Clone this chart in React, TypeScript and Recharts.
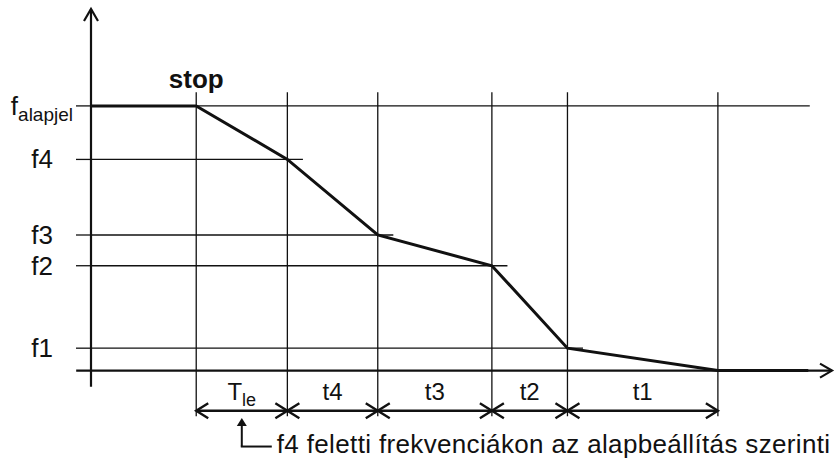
import React from "react";
import { ComposedChart, Line, XAxis, YAxis, ReferenceLine } from "recharts";

// frequency levels on the vertical axis
const freqLabels = ["f_alapjel", "f4", "f3", "f2", "f1"];
const freqValues = [73.2, 58.4, 37.5, 29.0, 6.2];

// time instants: stop, then the end of each braking phase
const timeMarks = [14.2, 26.5, 38.7, 54.1, 64.3, 84.6];
const phaseLabels = ["T_le", "t4", "t3", "t2", "t1"];

// the braking curve
const curveTime = [0, 14.2, 26.5, 38.7, 54.1, 64.3, 84.6, 96.8];
const curveFreq = [73.2, 73.2, 58.4, 37.5, 29.0, 6.2, 0, 0];

const stopLabel = "stop";
const noteText = "f4 feletti frekvenciákon az alapbeállítás szerinti";

// layout (data units)
const X_DOMAIN: [number, number] = [0, 100];
const Y_DOMAIN: [number, number] = [-25, 100];
const AXIS_X_FROM = -2;
const AXIS_X_TO = 100;
const AXIS_Y_FROM = -4.5;
const AXIS_Y_TO = 100;
const GRID_TOP = 77;
const GRID_BOTTOM = -12.6;
const TOP_LINE_END = 97;
const LEVEL_EXT = 2.1;
const DIM_Y = -11.1;
const NOTE_TIP = -13.1;
const NOTE_ELBOW = -21.0;

const FONT = '"Liberation Sans", Arial, sans-serif';
const INK = "#111";

const curve = curveTime.map((t, i) => ({ t, f: curveFreq[i] }));

const openHead = (tx: number, ty: number, ux: number, uy: number, len: number, half: number) => {
  const bx = tx - ux * len;
  const by = ty - uy * len;
  return `M${bx - uy * half},${by + ux * half}L${tx},${ty}L${bx + uy * half},${by - ux * half}`;
};

const SubText = ({ x, y, label, size, subSize, anchor }: any) => {
  const [main, sub] = label.split("_");
  return (
    <text x={x} y={y} textAnchor={anchor} fontFamily={FONT} fontSize={size} fill={INK}>
      <tspan>{main}</tspan>
      {sub && (
        <tspan fontSize={subSize} dy={6}>
          {sub}
        </tspan>
      )}
    </text>
  );
};

const FreqTick = (props: any) => {
  const { x, y, payload } = props;
  const i = freqValues.indexOf(payload.value);
  const label = freqLabels[i] ?? "";
  const hasSub = label.includes("_");
  return <SubText x={hasSub ? x - 1 : x - 21} y={y + 9} label={label} size={26} subSize={19} anchor="end" />;
};

const AxisShape = (p: any) => {
  const { x1, y1, x2, y2 } = p;
  const d = Math.hypot(x2 - x1, y2 - y1) || 1;
  const ux = (x2 - x1) / d;
  const uy = (y2 - y1) / d;
  return (
    <g>
      <line x1={x1} y1={y1} x2={x2} y2={y2} stroke={INK} strokeWidth={2.2} />
      <path d={openHead(x2, y2, ux, uy, 12, 7)} fill="none" stroke={INK} strokeWidth={2.2} />
    </g>
  );
};

const GridShape = (p: any) => {
  const { x1, y1, x2, y2, caption } = p;
  return (
    <g>
      <line x1={x1} y1={y1} x2={x2} y2={y2} stroke={INK} strokeWidth={1.3} />
      {caption && (
        <text
          x={x1}
          y={Math.min(y1, y2) - 4}
          textAnchor="middle"
          fontFamily={FONT}
          fontSize={26}
          fontWeight="bold"
          fill={INK}
        >
          {caption}
        </text>
      )}
    </g>
  );
};

const DimShape = (p: any) => {
  const { x1, y1, x2, y2, caption } = p;
  return (
    <g>
      <line x1={x1} y1={y1} x2={x2} y2={y2} stroke={INK} strokeWidth={2.4} />
      <path d={openHead(x1, y1, -1, 0, 12, 7.5)} fill="none" stroke={INK} strokeWidth={2.4} />
      <path d={openHead(x2, y2, 1, 0, 12, 7.5)} fill="none" stroke={INK} strokeWidth={2.4} />
      <SubText x={(x1 + x2) / 2} y={y1 - 11} label={caption} size={24} subSize={18} anchor="middle" />
    </g>
  );
};

const NoteShape = (p: any) => {
  const { x1, y1, x2, y2 } = p;
  return (
    <g>
      <line x1={x1} y1={y1} x2={x2} y2={y2 + 6} stroke={INK} strokeWidth={2} />
      <path d={`M${x2},${y2}L${x2 - 5},${y2 + 8}L${x2 + 5},${y2 + 8}Z`} fill={INK} />
      <line x1={x1 - 1} y1={y1} x2={x1 + 30} y2={y1} stroke={INK} strokeWidth={2} />
      <text x={x1 + 35} y={y1 + 6} fontFamily={FONT} fontSize={26} letterSpacing={0.35} fill={INK}>
        {noteText}
      </text>
    </g>
  );
};

export default function App() {
  const noteX = (timeMarks[0] + timeMarks[1]) / 2;
  return (
    <div style={{ position: "absolute", left: 0, top: 0, background: "#fff" }}>
      <ComposedChart width={836} height={461} data={curve} margin={{ top: 9, right: 4, bottom: 0, left: 0 }}>
        <XAxis type="number" dataKey="t" domain={X_DOMAIN} hide allowDataOverflow />
        <YAxis
          type="number"
          domain={Y_DOMAIN}
          width={91}
          ticks={freqValues}
          interval={0}
          axisLine={false}
          tickSize={15}
          tickLine={{ stroke: INK, strokeWidth: 1.3 }}
          tick={(props: any) => <FreqTick {...props} />}
          allowDataOverflow
        />

        {freqValues.map((v, i) => (
          <ReferenceLine
            key={`h${i}`}
            segment={[
              { x: 0, y: v },
              { x: i === 0 ? TOP_LINE_END : timeMarks[i] + LEVEL_EXT, y: v },
            ]}
            ifOverflow="visible"
            shape={(p: any) => <GridShape {...p} />}
          />
        ))}

        {timeMarks.map((t, i) => (
          <ReferenceLine
            key={`v${i}`}
            segment={[
              { x: t, y: GRID_BOTTOM },
              { x: t, y: GRID_TOP },
            ]}
            ifOverflow="visible"
            shape={(p: any) => <GridShape {...p} caption={i === 0 ? stopLabel : undefined} />}
          />
        ))}

        {phaseLabels.map((name, i) => (
          <ReferenceLine
            key={`d${i}`}
            segment={[
              { x: timeMarks[i], y: DIM_Y },
              { x: timeMarks[i + 1], y: DIM_Y },
            ]}
            ifOverflow="visible"
            shape={(p: any) => <DimShape {...p} caption={name} />}
          />
        ))}

        <ReferenceLine
          segment={[
            { x: AXIS_X_FROM, y: 0 },
            { x: AXIS_X_TO, y: 0 },
          ]}
          ifOverflow="visible"
          shape={(p: any) => <AxisShape {...p} />}
        />
        <ReferenceLine
          segment={[
            { x: 0, y: AXIS_Y_FROM },
            { x: 0, y: AXIS_Y_TO },
          ]}
          ifOverflow="visible"
          shape={(p: any) => <AxisShape {...p} />}
        />

        <ReferenceLine
          segment={[
            { x: noteX, y: NOTE_ELBOW },
            { x: noteX, y: NOTE_TIP },
          ]}
          ifOverflow="visible"
          shape={(p: any) => <NoteShape {...p} />}
        />

        <Line
          dataKey="f"
          type="linear"
          stroke={INK}
          strokeWidth={3}
          dot={false}
          activeDot={false}
          isAnimationActive={false}
        />
      </ComposedChart>
    </div>
  );
}
